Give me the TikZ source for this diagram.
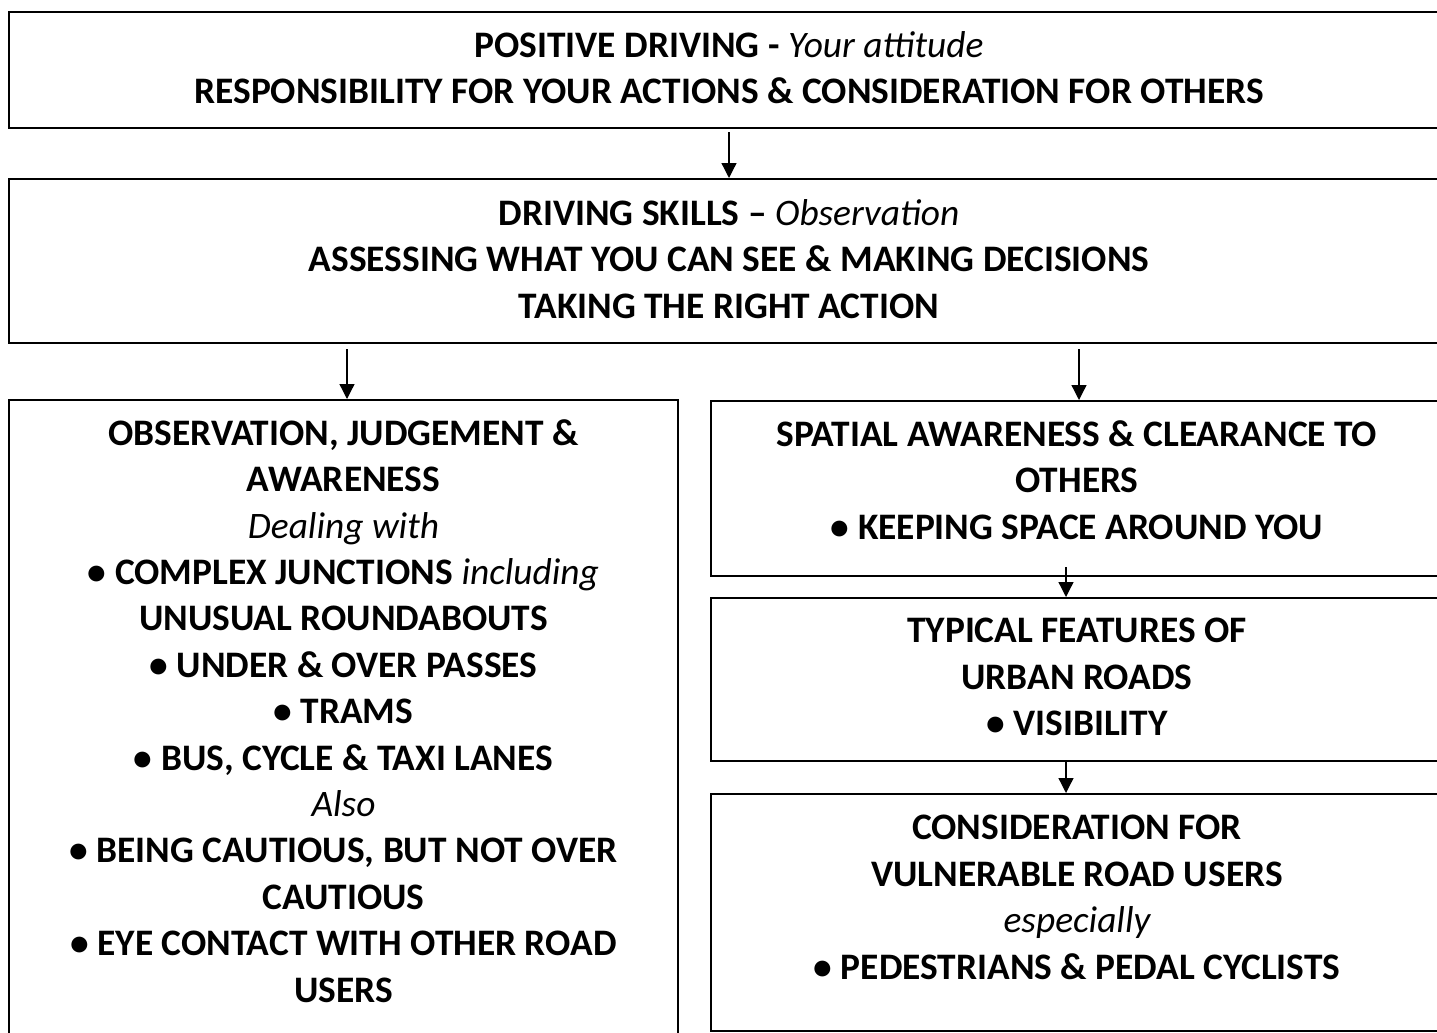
\documentclass[tikz,border=0pt]{standalone}
\usepackage{fontspec}
\setmainfont{Carlito}
\usetikzlibrary{arrows.meta}

\tikzset{
  panel/.style={draw, line width=1pt, inner sep=0pt, anchor=north west},
  caption/.style={anchor=north, align=center, inner sep=0pt,
    font=\fontsize{18.7}{23.2}\selectfont\bfseries,
    execute at begin node=\rule{0pt}{14pt}},
  link/.style={line width=0.65pt, -{Triangle[length=7.5pt,width=7.5pt]}}
}
\newcommand{\soft}[1]{{\mdseries\itshape #1}}

\begin{document}
\begin{tikzpicture}[x=0.5pt, y=-0.5pt]
\useasboundingbox (0,0) rectangle (1437,1033);

% boxes
\node[panel, minimum width=720pt, minimum height=58pt] (attitude) at (8,11) {};
\node[panel, minimum width=720pt, minimum height=82pt] (skills) at (8,178) {};
\node[panel, minimum width=334.5pt, minimum height=323pt] (hazards) at (8,399) {};
\node[panel, minimum width=366pt, minimum height=87.5pt] (space) at (710,400) {};
\node[panel, minimum width=366pt, minimum height=81.5pt] (features) at (710,597) {};
\node[panel, minimum width=366pt, minimum height=118.5pt] (vulnerable) at (710,793) {};

% texts
\node[caption] (attitude text) at ([yshift=-10pt]attitude.north)
  {POSITIVE DRIVING - \soft{Your attitude}\\
   RESPONSIBILITY FOR YOUR ACTIONS \& CONSIDERATION FOR OTHERS};
\node[caption] (skills text) at ([yshift=-10.5pt]skills.north)
  {DRIVING SKILLS – \soft{Observation}\\
   ASSESSING WHAT YOU CAN SEE \& MAKING DECISIONS\\
   TAKING THE RIGHT ACTION};
\node[caption] (hazards text) at ([yshift=-10pt]hazards.north)
  {OBSERVATION, JUDGEMENT \&\\
   AWARENESS\\
   \soft{Dealing with}\\
   \textbullet\ COMPLEX JUNCTIONS \soft{including}\\
   UNUSUAL ROUNDABOUTS\\
   \textbullet\ UNDER \& OVER PASSES\\
   \textbullet\ TRAMS\\
   \textbullet\ BUS, CYCLE \& TAXI LANES\\
   \soft{Also}\\
   \textbullet\ BEING CAUTIOUS, BUT NOT OVER\\
   CAUTIOUS\\
   \textbullet\ EYE CONTACT WITH OTHER ROAD\\
   USERS};
\node[caption] (space text) at ([yshift=-10pt]space.north)
  {SPATIAL AWARENESS \& CLEARANCE TO\\
   OTHERS\\
   \textbullet\ KEEPING SPACE AROUND YOU};
\node[caption] (features text) at ([yshift=-10.5pt]features.north)
  {TYPICAL FEATURES OF\\
   URBAN ROADS\\
   \textbullet\ VISIBILITY};
\node[caption] (vulnerable text) at ([yshift=-11pt]vulnerable.north)
  {CONSIDERATION FOR\\
   VULNERABLE ROAD USERS\\
   \soft{especially}\\
   \textbullet\ PEDESTRIANS \& PEDAL CYCLISTS};

% arrows
\draw[link, shorten <=1.5pt] (attitude) -- (skills);
\draw[link, shorten <=2.5pt] ([xshift=1.75pt]skills.south -| hazards.north) -- ([xshift=1.75pt]hazards.north);
\draw[link, shorten <=2.5pt] ([xshift=1pt]skills.south -| space.north) -- ([xshift=1pt]space.north);
\draw[link] ([xshift=-5.5pt,yshift=5pt]space.south) -- ([xshift=-5.5pt]features.north);
\draw[link] ([xshift=-5.5pt]features.south) -- ([xshift=-5.5pt]vulnerable.north);
\end{tikzpicture}
\end{document}
